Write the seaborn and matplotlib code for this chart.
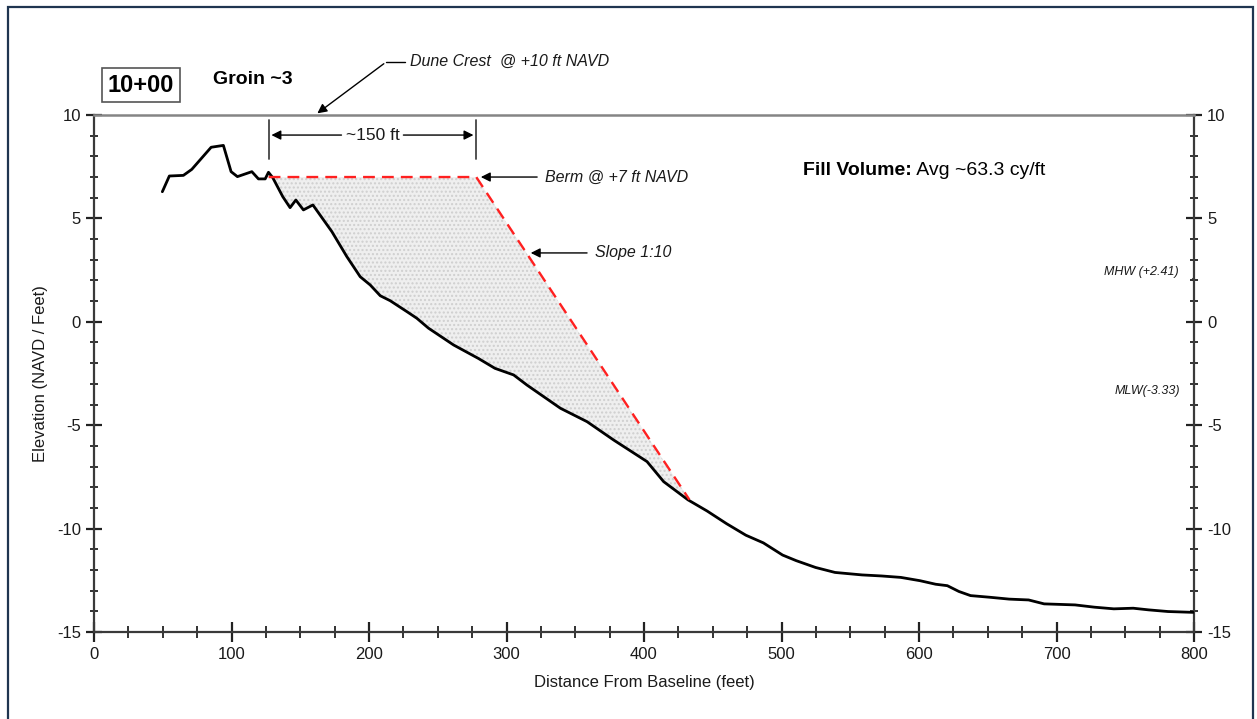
import numpy as np
import pandas as pd
import matplotlib
matplotlib.use("Agg")
import matplotlib.pyplot as plt
from matplotlib import font_manager as fm
from matplotlib.patches import Rectangle
from matplotlib.ticker import MultipleLocator
import seaborn as sns

# ---------------- data ----------------
profile_x = [49.7, 54.8, 65, 71.1, 85.2, 94.1, 99.7, 104.3, 114.8, 119.6, 124.5, 126.9, 130,
             137.3, 142.6, 146.8, 152.3, 159.2, 173, 183.9, 193.6, 200.9, 208.2, 215.4, 227.6,
             234.8, 243.3, 261.5, 279.5, 291.6, 305.2, 314.9, 339.2, 358.6, 378, 402.2, 414.3,
             432, 445.9, 460, 474.1, 486.8, 500.8, 510.7, 524.8, 538.9, 558.6, 572.7, 586.8,
             600.8, 612.1, 620.6, 629, 637.5, 651.5, 665.6, 679.7, 691, 713.5, 727.6, 741.7,
             755.8, 767, 781.1, 799.4]
profile_y = [6.29, 7.05, 7.08, 7.37, 8.44, 8.53, 7.26, 7.02, 7.26, 6.91, 6.91, 7.23, 6.97,
             6.05, 5.52, 5.89, 5.41, 5.65, 4.36, 3.15, 2.18, 1.78, 1.26, 1.02, 0.49,
             0.17, -0.31, -1.12, -1.77, -2.25, -2.57, -3.06, -4.18, -4.83, -5.72, -6.76, -7.73,
             -8.61, -9.15, -9.76, -10.32, -10.69, -11.28, -11.55, -11.88, -12.12, -12.24, -12.29, -12.36,
             -12.52, -12.69, -12.76, -13.04, -13.24, -13.32, -13.41, -13.45, -13.64, -13.69, -13.8, -13.88,
             -13.85, -13.93, -14.01, -14.05]

# design template: berm start, berm end, toe of 1:10 slope
design_x = [127, 278, 433]
design_y = [7.0, 7.0, -8.6]

dune_crest = 10.0
mhw = 2.41
mlw = -3.33
x_ticks = [0, 100, 200, 300, 400, 500, 600, 700, 800]
y_ticks = [-15, -10, -5, 0, 5, 10]

# ---------------- style ----------------
sns.set_style("white")
avail = {f.name for f in fm.fontManager.ttflist}
fam = [f for f in ["Liberation Sans Narrow", "Liberation Sans", "DejaVu Sans"] if f in avail]
plt.rcParams["font.family"] = fam
plt.rcParams["axes.unicode_minus"] = False
TXT = "#1a1a1a"

W, H = 1257, 719
fig = plt.figure(figsize=(W / 100, H / 100), dpi=100)
ax = fig.add_axes([94 / W, 1 - 632 / H, (1194 - 94) / W, (632 - 115) / H])

df = pd.DataFrame({"Distance": profile_x, "Elevation": profile_y})

# fill area between design template and existing profile
px = np.array(profile_x)
py = np.array(profile_y)
mask = (px > design_x[0]) & (px < design_x[-1])
poly_x = list(design_x) + list(px[mask][::-1])
poly_y = list(design_y) + list(py[mask][::-1])
ax.fill(poly_x, poly_y, facecolor="#efefef", edgecolor="#cfcfcf", hatch="....",
        linewidth=0, zorder=1)

sns.lineplot(data=df, x="Distance", y="Elevation", ax=ax, color="black", lw=2.0,
             sort=False, estimator=None, zorder=3)
ax.plot(design_x, design_y, color="#ff2020", lw=1.7, ls=(0, (5, 3)), zorder=4)

ax.set_xlim(0, 800)
ax.set_ylim(-15, dune_crest)
ax.set_xticks(x_ticks)
ax.set_yticks(y_ticks)
ax.xaxis.set_minor_locator(MultipleLocator(25))
ax.yaxis.set_minor_locator(MultipleLocator(1))
ax.tick_params(axis="x", which="major", direction="inout", length=15, width=1.6,
               colors="#222", labelsize=12, pad=3, labelcolor=TXT, bottom=True, top=False)
ax.tick_params(axis="x", which="minor", direction="inout", length=8, width=1.3,
               colors="#222", bottom=True, top=False)
ax.tick_params(axis="y", which="major", direction="inout", length=11, width=1.6,
               colors="#222", labelsize=12, pad=4, labelcolor=TXT,
               left=True, right=True, labelleft=True, labelright=True)
ax.tick_params(axis="y", which="minor", direction="inout", length=6, width=1.3,
               colors="#222", left=True, right=True)

for s in ["left", "right", "bottom"]:
    ax.spines[s].set_color("#3a3a3a")
    ax.spines[s].set_linewidth(1.6)
ax.spines["top"].set_color("#858585")
ax.spines["top"].set_linewidth(1.8)

ax.set_xlabel("Distance From Baseline (feet)", fontsize=12, color=TXT, labelpad=10)
ax.set_ylabel("Elevation (NAVD / Feet)", fontsize=12, color=TXT, labelpad=6)

# ---------------- annotations ----------------
# station box and title
fig.text(141 / W, 1 - 85 / H, "10+00", fontsize=17, fontweight="bold", color="black",
         ha="center", va="center",
         bbox=dict(boxstyle="square,pad=0.25", facecolor="white", edgecolor="#555", lw=1.2))
fig.text(213 / W, 1 - 80 / H, "Groin ~3", fontsize=14, fontweight="bold", color="black",
         ha="left", va="center")

# dune crest leader
ax.plot([212.4, 226.0], [12.56, 12.56], color="black", lw=1.0, clip_on=False)
ax.annotate("", xy=(160.8, dune_crest), xytext=(212.4, 12.56),
            arrowprops=dict(arrowstyle="-|>", color="black", lw=1.0, mutation_scale=14),
            annotation_clip=False)
ax.text(229.5, 12.6, "Dune Crest  @ +10 ft NAVD", fontsize=11.5, style="italic",
        color=TXT, ha="left", va="center", clip_on=False)

# ~150 ft dimension
ax.plot([design_x[0], design_x[0]], [7.85, 9.75], color="#444", lw=1.3)
ax.plot([design_x[1], design_x[1]], [7.85, 9.75], color="#444", lw=1.3)
ax.annotate("", xy=(design_x[0], 9.03), xytext=(182, 9.03),
            arrowprops=dict(arrowstyle="-|>", color="black", lw=1.0, mutation_scale=14))
ax.annotate("", xy=(design_x[1], 9.03), xytext=(223, 9.03),
            arrowprops=dict(arrowstyle="-|>", color="black", lw=1.0, mutation_scale=14))
ax.text((design_x[0] + design_x[1]) / 2, 9.03, "~150 ft", fontsize=12.5, color=TXT,
        ha="center", va="center")

# berm
ax.annotate("", xy=(279.3, 7.0), xytext=(324.3, 7.0),
            arrowprops=dict(arrowstyle="-|>", color="black", lw=1.0, mutation_scale=14))
ax.text(327.9, 7.0, "Berm @ +7 ft NAVD", fontsize=11.5, style="italic", color=TXT,
        ha="left", va="center")

# slope
ax.annotate("", xy=(315.6, 3.33), xytext=(360.6, 3.33),
            arrowprops=dict(arrowstyle="-|>", color="black", lw=1.0, mutation_scale=14))
ax.text(364.3, 3.33, "Slope 1:10", fontsize=11.5, style="italic", color=TXT,
        ha="left", va="center")

# fill volume
t1 = ax.text(515.5, 7.34, "Fill Volume:", fontsize=14, fontweight="bold", color="black",
             ha="left", va="center")
ax.annotate(" Avg ~63.3 cy/ft", xy=(1, 0.5), xycoords=t1, xytext=(0, 0),
            textcoords="offset points", fontsize=14, color="black", ha="left", va="center")

# tidal datums
ax.text(788.5, mhw, "MHW (+2.41)", fontsize=9, style="italic", color=TXT,
        ha="right", va="center")
ax.plot([799.5], [mhw - 0.35], marker="o", ms=1.5, color="#333", clip_on=False)
ax.text(789.8, mlw, "MLW(-3.33)", fontsize=9, style="italic", color=TXT,
        ha="right", va="center")

# outer frame
fig.patches.append(Rectangle((8 / W, -0.02), (1253 - 8) / W, 1.02 - 7 / H,
                             transform=fig.transFigure, fill=False,
                             edgecolor="#1f3550", lw=1.6))

fig.savefig("out.png", dpi=100, facecolor="white")
